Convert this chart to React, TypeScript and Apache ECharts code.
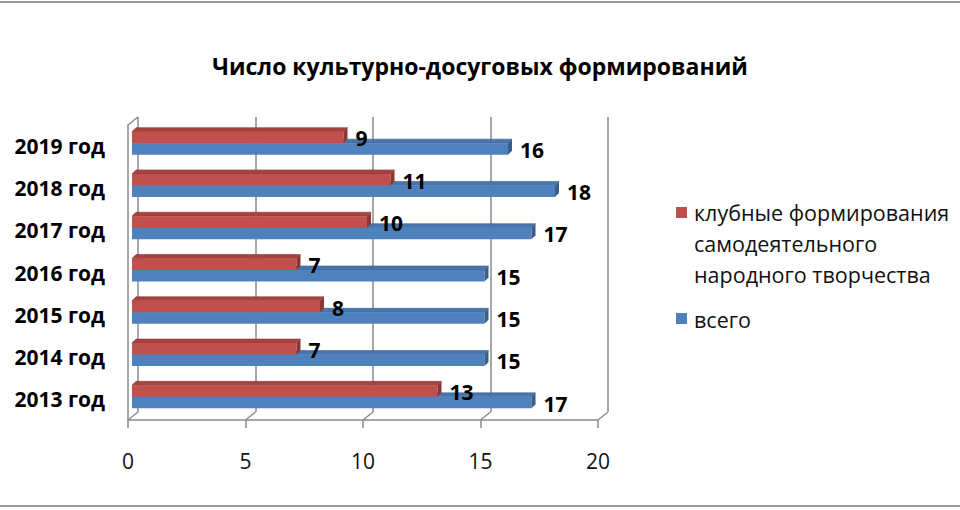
import React, { useEffect, useRef } from "react";
import * as echarts from "echarts";

const TITLE = "Число культурно-досуговых формирований";
const CATEGORIES = ["2013 год", "2014 год", "2015 год", "2016 год", "2017 год", "2018 год", "2019 год"];
const CLUB_NAME = "клубные формирования самодеятельного народного творчества";
const CLUB_LINES = ["клубные формирования", "самодеятельного", "народного творчества"];
const TOTAL_NAME = "всего";
const CLUB_VALUES = [13, 7, 8, 7, 10, 11, 9];
const TOTAL_VALUES = [17, 15, 15, 15, 17, 18, 16];
const X_TICKS = [0, 5, 10, 15, 20];

const FONT = '"Open Sans", "DejaVu Sans", sans-serif';
const GRID_COLOR = "#8a8a8a";

const RED = { front: "#C0504D", top: "#A9423F", side: "#8C3735" };
const BLUE = { front: "#4F81BD", top: "#4675AF", side: "#385E8C" };

function makeRender(above: boolean, col: { front: string; top: string; side: string }) {
  return (params: any, api: any) => {
    const val = api.value(0);
    const cat = api.value(1);
    const start = api.coord([0, cat]);
    const end = api.coord([val, cat]);
    const c = start[1];
    const h = 11.5;
    const d = 4;
    const y0 = above ? c - h : c;
    const x0 = start[0];
    const x1 = end[0];
    return {
      type: "group",
      children: [
        {
          type: "polygon",
          shape: { points: [[x0, y0], [x1, y0], [x1 + d, y0 - d], [x0 + d, y0 - d]] },
          style: { fill: col.top, stroke: col.side, lineWidth: 0.6 },
        },
        {
          type: "rect",
          shape: { x: x0, y: y0, width: x1 - x0, height: h },
          style: { fill: col.front },
        },
        {
          type: "polygon",
          shape: { points: [[x1, y0], [x1 + d, y0 - d], [x1 + d, y0 + h - d], [x1, y0 + h]] },
          style: { fill: col.side },
        },
        {
          type: "text",
          x: x1 + 12,
          y: y0 + h / 2 + 1,
          style: {
            text: String(val),
            font: `bold 21px ${FONT}`,
            fill: "#000",
            align: "left",
            verticalAlign: "middle",
          },
        },
      ],
    };
  };
}

export default function App() {
  const ref = useRef<HTMLDivElement>(null);
  useEffect(() => {
    document.body.style.margin = "0";
    if (!ref.current) return;
    const chart = echarts.init(ref.current, null, { renderer: "svg" });

    const backLeft = 138, backTop = 117, backW = 470, backH = 295;
    const frontLeft = 128, frontTop = 125, frontW = 470, frontH = 295;
    const step = frontW / (X_TICKS.length - 1);

    const floorLines = X_TICKS.map((_, k) => ({
      type: "line",
      shape: { x1: frontLeft + step * k, y1: frontTop + frontH, x2: backLeft + step * k, y2: backTop + backH },
      style: { stroke: GRID_COLOR, lineWidth: 1.5 },
      silent: true,
    }));

    const legendX = 676;
    const legendFont = `21.5px ${FONT}`;
    const legendGraphics: any[] = [
      { type: "rect", shape: { x: legendX, y: 207, width: 11, height: 11 }, style: { fill: RED.front } },
      ...CLUB_LINES.map((t, i) => ({
        type: "text",
        x: 694,
        y: 212 + i * 31,
        style: { text: t, font: legendFont, fill: "#111", verticalAlign: "middle" },
      })),
      { type: "rect", shape: { x: legendX, y: 313, width: 11, height: 11 }, style: { fill: BLUE.front } },
      {
        type: "text",
        x: 694,
        y: 319,
        style: { text: TOTAL_NAME, font: legendFont, fill: "#111", verticalAlign: "middle" },
      },
    ];

    chart.setOption({
      animation: false,
      title: {
        text: TITLE,
        left: "center",
        top: 49,
        textStyle: { fontFamily: FONT, fontWeight: "bold", fontSize: 23, color: "#000" },
      },
      grid: [
        { left: backLeft, top: backTop, width: backW, height: backH },
        { left: frontLeft, top: frontTop, width: frontW, height: frontH },
        { left: 132, top: 122, width: 470, height: 296 },
      ],
      xAxis: [
        {
          gridIndex: 0, type: "value", min: 0, max: 20, interval: 5,
          axisLine: { show: false }, axisTick: { show: false }, axisLabel: { show: false },
          splitLine: { show: true, lineStyle: { color: GRID_COLOR, width: 1.5 } },
        },
        {
          gridIndex: 1, type: "value", min: 0, max: 20, interval: 5,
          axisLine: { show: true, lineStyle: { color: GRID_COLOR, width: 1.5 } },
          axisTick: { show: true, length: 8, lineStyle: { color: GRID_COLOR, width: 1.5 } },
          axisLabel: { show: true, margin: 30, fontFamily: FONT, fontSize: 21, color: "#111" },
          splitLine: { show: false },
        },
        {
          gridIndex: 2, type: "value", min: 0, max: 20, interval: 5, show: false,
          splitLine: { show: false },
        },
      ],
      yAxis: [
        { gridIndex: 0, type: "category", data: CATEGORIES, show: false },
        {
          gridIndex: 1, type: "category", data: CATEGORIES,
          axisLine: { show: true, lineStyle: { color: GRID_COLOR, width: 1.5 } },
          axisTick: { show: false },
          axisLabel: { margin: 23, fontFamily: FONT, fontWeight: "bold", fontSize: 21, color: "#000" },
          splitLine: { show: false },
        },
        { gridIndex: 2, type: "category", data: CATEGORIES, show: false },
      ],
      series: [
        {
          name: TOTAL_NAME,
          type: "custom",
          xAxisIndex: 2,
          yAxisIndex: 2,
          renderItem: makeRender(false, BLUE),
          encode: { x: 0, y: 1 },
          data: TOTAL_VALUES.map((v, i) => [v, i]),
          z: 2,
        },
        {
          name: CLUB_NAME,
          type: "custom",
          xAxisIndex: 2,
          yAxisIndex: 2,
          renderItem: makeRender(true, RED),
          encode: { x: 0, y: 1 },
          data: CLUB_VALUES.map((v, i) => [v, i]),
          z: 3,
        },
      ],
      graphic: [
        { type: "line", shape: { x1: 0, y1: 2, x2: 960, y2: 2 }, style: { stroke: "#9a9a9a", lineWidth: 2 } },
        { type: "line", shape: { x1: 0, y1: 506, x2: 960, y2: 506 }, style: { stroke: "#9a9a9a", lineWidth: 2 } },
        {
          type: "line",
          shape: { x1: frontLeft, y1: frontTop, x2: backLeft, y2: backTop },
          style: { stroke: GRID_COLOR, lineWidth: 1.5 },
        },
        ...floorLines,
        ...legendGraphics,
      ],
    });
    return () => chart.dispose();
  }, []);
  return <div ref={ref} style={{ width: 960, height: 510 }} />;
}
